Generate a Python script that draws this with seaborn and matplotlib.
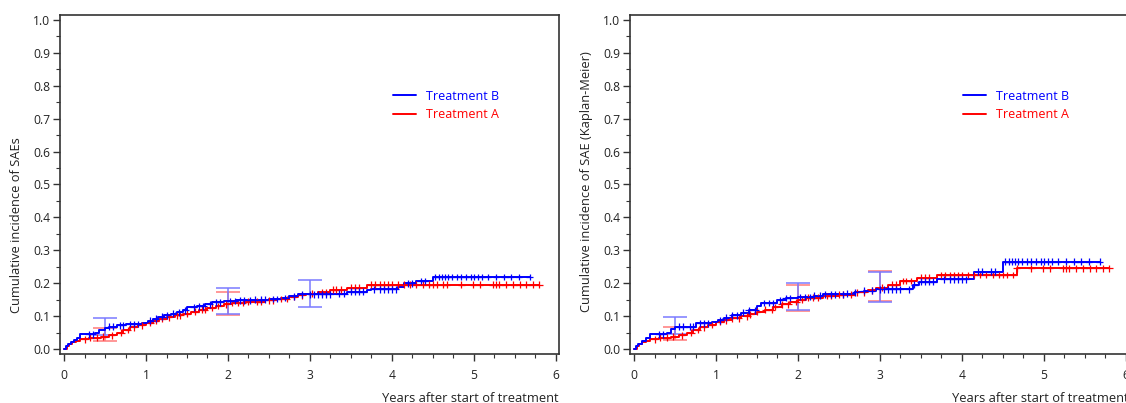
import numpy as np
import pandas as pd
import matplotlib
matplotlib.use('Agg')
import matplotlib.pyplot as plt
from matplotlib.lines import Line2D
from matplotlib.ticker import MultipleLocator
import seaborn as sns

# left panel: cumulative incidence of SAEs
left_b_t = [0, 0.02, 0.05, 0.08, 0.12, 0.16, 0.2, 0.38, 0.42, 0.5, 0.55, 0.65, 0.75, 0.95, 1.02, 1.08,
            1.15, 1.22, 1.3, 1.38, 1.45, 1.5, 1.62, 1.72, 1.8, 1.95, 2.1, 2.3, 2.5, 2.65, 2.75, 2.85,
            3.3, 3.45, 3.7, 3.75, 4.08, 4.15, 4.3, 4.5]
left_b_v = [0, 0.008, 0.015, 0.02, 0.027, 0.035, 0.045, 0.05, 0.058, 0.063, 0.068, 0.072, 0.076, 0.08,
            0.086, 0.092, 0.098, 0.102, 0.107, 0.112, 0.118, 0.127, 0.13, 0.136, 0.142, 0.146, 0.148,
            0.15, 0.152, 0.155, 0.16, 0.166, 0.168, 0.174, 0.178, 0.182, 0.19, 0.2, 0.207, 0.219]
left_a_t = [0, 0.03, 0.06, 0.1, 0.15, 0.2, 0.3, 0.45, 0.55, 0.65, 0.72, 0.8, 0.9, 1.0, 1.08, 1.16, 1.25,
            1.35, 1.45, 1.55, 1.65, 1.75, 1.85, 1.95, 2.05, 2.2, 2.45, 2.6, 2.75, 2.85, 2.95, 3.1, 3.25,
            3.45, 3.7]
left_a_v = [0, 0.008, 0.014, 0.02, 0.026, 0.03, 0.035, 0.038, 0.042, 0.05, 0.058, 0.066, 0.072, 0.08,
            0.086, 0.092, 0.097, 0.103, 0.108, 0.114, 0.12, 0.126, 0.131, 0.136, 0.14, 0.144, 0.148,
            0.152, 0.158, 0.163, 0.168, 0.172, 0.18, 0.187, 0.195]

# right panel: Kaplan-Meier
right_b_t = [0, 0.02, 0.05, 0.1, 0.15, 0.2, 0.4, 0.45, 0.5, 0.75, 0.95, 1.02, 1.1, 1.2, 1.3, 1.4, 1.5,
             1.55, 1.75, 1.85, 2.0, 2.2, 2.3, 2.6, 2.7, 2.8, 2.95, 3.4, 3.48, 3.7, 4.08, 4.15, 4.5]
right_b_v = [0, 0.008, 0.015, 0.025, 0.035, 0.045, 0.048, 0.06, 0.068, 0.078, 0.083, 0.088, 0.095,
             0.102, 0.11, 0.118, 0.13, 0.14, 0.148, 0.155, 0.158, 0.162, 0.166, 0.168, 0.172, 0.177,
             0.182, 0.195, 0.205, 0.212, 0.214, 0.235, 0.265]
right_a_t = [0, 0.03, 0.06, 0.1, 0.15, 0.2, 0.3, 0.45, 0.55, 0.65, 0.72, 0.8, 0.9, 1.0, 1.1, 1.2, 1.3,
             1.4, 1.5, 1.6, 1.7, 1.8, 1.9, 2.0, 2.1, 2.3, 2.5, 2.7, 2.85, 2.95, 3.1, 3.25, 3.45, 3.7, 4.67]
right_a_v = [0, 0.008, 0.014, 0.02, 0.026, 0.03, 0.034, 0.038, 0.042, 0.05, 0.058, 0.066, 0.073, 0.082,
             0.088, 0.094, 0.1, 0.106, 0.114, 0.12, 0.128, 0.136, 0.143, 0.15, 0.156, 0.161, 0.165,
             0.172, 0.178, 0.187, 0.195, 0.207, 0.217, 0.225, 0.245]

end_b = 5.68
end_a = 5.8

censor_b = [0.3, 0.35, 0.55, 0.6, 0.68, 0.72, 0.8, 0.85, 0.9, 1.05, 1.12, 1.2, 1.25, 1.33, 1.4, 1.48,
            1.58, 1.65, 1.7, 1.78, 1.85, 1.9, 2.02, 2.08, 2.15, 2.2, 2.27, 2.33, 2.4, 2.45, 2.55, 2.6,
            2.7, 2.8, 2.9, 3.0, 3.05, 3.1, 3.15, 3.2, 3.25, 3.35, 3.42, 3.5, 3.55, 3.6, 3.65, 3.78,
            3.85, 3.9, 3.95, 4.0, 4.05, 4.2, 4.25, 4.35, 4.4, 4.53, 4.57, 4.61, 4.65, 4.69, 4.73, 4.8,
            4.85, 4.9, 4.96, 5.0, 5.05, 5.1, 5.17, 5.27, 5.37, 5.45, 5.55, 5.68]
censor_a = [0.25, 0.32, 0.4, 0.48, 0.58, 0.7, 0.78, 0.85, 0.95, 1.05, 1.12, 1.2, 1.28, 1.38, 1.42, 1.5,
            1.6, 1.68, 1.72, 1.8, 1.88, 1.98, 2.05, 2.12, 2.18, 2.25, 2.35, 2.4, 2.5, 2.55, 2.65, 2.72,
            2.8, 2.9, 3.02, 3.15, 3.2, 3.28, 3.32, 3.38, 3.5, 3.55, 3.6, 3.75, 3.8, 3.85, 3.9, 3.95,
            4.0, 4.08, 4.15, 4.22, 4.3, 4.38, 4.45, 4.5, 4.55, 4.63, 4.67, 4.85, 4.99, 5.07, 5.23,
            5.27, 5.31, 5.39, 5.48, 5.56, 5.64, 5.72, 5.8]

# confidence intervals at selected years: (time, lower, upper)
left_ci_b = [(0.5, 0.042, 0.094), (2.0, 0.106, 0.185), (3.0, 0.128, 0.21)]
left_ci_a = [(0.5, 0.024, 0.063), (2.0, 0.103, 0.173)]
right_ci_b = [(0.5, 0.045, 0.097), (2.0, 0.12, 0.2), (3.0, 0.143, 0.234)]
right_ci_a = [(0.5, 0.027, 0.067), (2.0, 0.115, 0.195), (3.0, 0.146, 0.237)]

BLUE = '#0000ff'
RED = '#ff0000'
BLUE_CI = '#7a7aff'
RED_CI = '#ff7a7a'

sns.set_style('ticks')
plt.rcParams['font.family'] = ['Open Sans', 'DejaVu Sans']


def step_value(ts, vs, t):
    idx = np.searchsorted(ts, t, side='right') - 1
    return vs[max(idx, 0)]


def curve_frame(ts, vs, end, name):
    t = list(ts) + [end]
    v = list(vs) + [vs[-1]]
    return pd.DataFrame({'t': t, 'v': v, 'group': name})


def draw_panel(ax, b_t, b_v, a_t, a_v, ci_b, ci_a, ylabel, ylabel_y):
    for ci, col in [(ci_a, RED_CI), (ci_b, BLUE_CI)]:
        for t, lo, hi in ci:
            ax.errorbar([t], [(lo + hi) / 2], yerr=[[(hi - lo) / 2], [(hi - lo) / 2]],
                        fmt='none', ecolor=col, elinewidth=1.1,
                        capsize=8.3, capthick=1.1, zorder=1)

    df = pd.concat([curve_frame(a_t, a_v, end_a, 'Treatment A'),
                    curve_frame(b_t, b_v, end_b, 'Treatment B')])
    sns.lineplot(data=df, x='t', y='v', hue='group',
                 palette={'Treatment A': RED, 'Treatment B': BLUE},
                 estimator=None, sort=False, drawstyle='steps-post',
                 linewidth=1.4, legend=False, ax=ax, zorder=2)

    cens = pd.concat([
        pd.DataFrame({'t': censor_a, 'v': [step_value(a_t, a_v, c) for c in censor_a], 'group': 'Treatment A'}),
        pd.DataFrame({'t': censor_b, 'v': [step_value(b_t, b_v, c) for c in censor_b], 'group': 'Treatment B'}),
    ])
    sns.scatterplot(data=cens, x='t', y='v', hue='group',
                    palette={'Treatment A': RED, 'Treatment B': BLUE},
                    marker='+', s=24, linewidth=0.9, legend=False, ax=ax, zorder=3)

    ax.set_xlim(-0.05, 6.04)
    ax.set_ylim(-0.015, 1.015)
    ax.set_xticks(range(0, 7))
    ax.set_yticks(np.arange(0, 1.01, 0.1))
    ax.set_yticklabels([f'{y:.1f}' for y in np.arange(0, 1.01, 0.1)])
    ax.xaxis.set_minor_locator(MultipleLocator(0.25))
    ax.yaxis.set_minor_locator(MultipleLocator(0.05))
    ax.tick_params(which='major', length=5, width=1, color='#333333', labelsize=8.7, labelcolor='#222222')
    ax.tick_params(which='minor', length=3, width=0.8, color='#333333')
    ax.tick_params(axis='x', pad=6)
    ax.tick_params(axis='y', pad=2)
    for s in ax.spines.values():
        s.set_color('#333333')
        s.set_linewidth(1.2)

    ax.set_ylabel(ylabel, fontsize=9.3, color='#222222')
    ax.yaxis.set_label_coords(-0.074, ylabel_y)
    ax.set_xlabel('Years after start of treatment', fontsize=9.3, color='#222222', loc='right', labelpad=7)

    handles = [Line2D([], [], color=BLUE, lw=1.4), Line2D([], [], color=RED, lw=1.4)]
    ax.legend(handles, ['Treatment B', 'Treatment A'], labelcolor=[BLUE, RED],
              frameon=False, loc='upper left', bbox_to_anchor=(0.668, 0.78),
              borderaxespad=0, borderpad=0, handlelength=1.8, handletextpad=0.8,
              labelspacing=0.45, fontsize=9)


fig = plt.figure(figsize=(11.26, 4.03), dpi=100)
W, H = 1126, 403
ax1 = fig.add_axes([60 / W, (H - 354) / H, 499 / W, 339 / H])
ax2 = fig.add_axes([630 / W, (H - 354) / H, 499 / W, 339 / H])

draw_panel(ax1, left_b_t, left_b_v, left_a_t, left_a_v, left_ci_b, left_ci_a,
           'Cumulative incidence of SAEs', 0.38)
draw_panel(ax2, right_b_t, right_b_v, right_a_t, right_a_v, right_ci_b, right_ci_a,
           'Cumulative incidence of SAE (Kaplan-Meier)', 0.51)

fig.savefig('out.png', dpi=100)
